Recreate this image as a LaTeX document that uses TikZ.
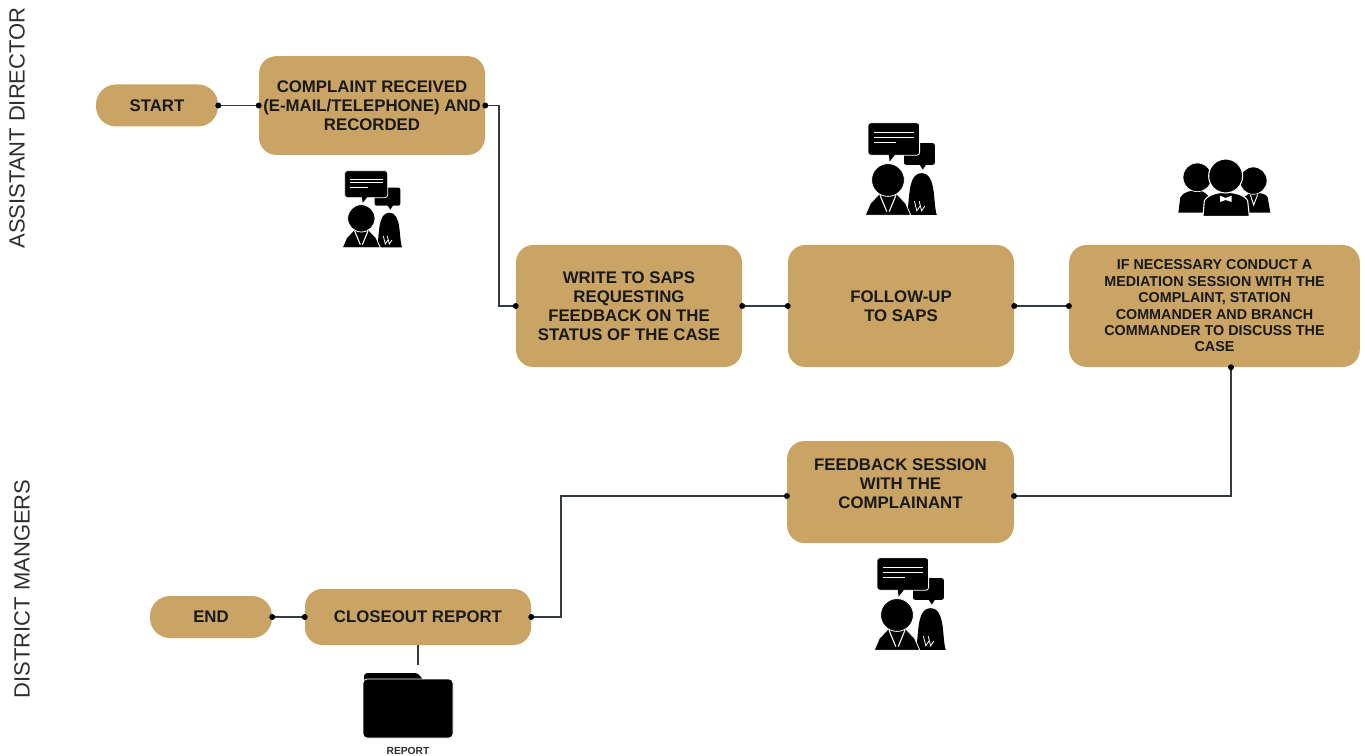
\documentclass[tikz,border=0pt]{standalone}
\usepackage{fontspec}
\setmainfont{Liberation Sans}
\usetikzlibrary{arrows.meta}

\definecolor{boxtan}{HTML}{C9A465}
\definecolor{linkgray}{HTML}{333A40}
\definecolor{sidegray}{HTML}{2E2E2E}

\tikzset{
  stepbox/.style={fill=boxtan, rounded corners=13pt, align=center, text=black!90,
    font=\fontsize{12.6}{14.3}\selectfont\bfseries, inner sep=0pt},
  pill/.style={stepbox, rounded corners=15pt},
  link/.style={draw=linkgray, line width=1.1pt, {Circle[length=4.4pt,black]}-{Circle[length=4.4pt,black]},
    shorten <=-2.2pt, shorten >=-2.2pt},
  sidelabel/.style={rotate=90, text=sidegray, font=\fontsize{16.5}{18}\selectfont},
  talkers/.pic={
    \fill[rounded corners=1.5pt] (140,83) rectangle (217,137);
    \fill (178,135) -- (187,149) -- (196,135) -- cycle;
    \filldraw[draw=white, line width=.6pt, rounded corners=2pt] (50,32) rectangle (179,113);
    \fill (102,111) -- (104,129) -- (118,111) -- cycle;
    \foreach \y in {57,68} {
      \draw[white, line width=.7pt] (65,\y) -- (165,\y);
    }
    \draw[white, line width=.7pt] (65,82) -- (121,82);
    % Woman
    \fill (146,262) .. controls (156,235) and (146,158) .. (184,158)
      .. controls (222,158) and (212,235) .. (222,262) -- cycle;
    \foreach \x in {166,178} {
      \draw[white, line width=.6pt] (\x,228) -- (\x+6,252) -- (\x+14,240);
    }
    % Man
    \filldraw[draw=white, line width=.6pt] (43,263) -- (56,233) -- (80,208) -- (120,208)
      -- (144,233) -- (157,263) -- cycle;
    \draw[white, line width=.8pt] (80,213) -- (97,254);
    \draw[white, line width=.8pt] (120,213) -- (103,254);
    \filldraw[draw=white, line width=.6pt] (100,175) circle (41);
  },
  crowd/.pic={
    % Left and right
    \fill (40,188) -- (46,142) .. controls (56,124) and (80,122) .. (97,120)
      .. controls (125,125) and (140,140) .. (150,188) -- cycle;
    \filldraw[draw=white, line width=.5pt] (97,82) circle (43);
    \fill (220,188) -- (228,150) .. controls (240,136) and (255,130) .. (265,128)
      .. controls (287,128) and (304,132) .. (308,142) -- (316,188) -- cycle;
    \filldraw[draw=white, line width=.5pt] (265,92) circle (41);
    \draw[white, line width=.7pt] (256,134) -- (266,165) -- (278,134);
    % Centre
    \filldraw[draw=white, line width=.8pt] (114,199) -- (118,152) .. controls (130,132) and (160,128) .. (182,126)
      .. controls (205,128) and (236,132) .. (248,152) -- (253,199) -- cycle;
    \filldraw[draw=white, line width=.8pt] (182,78) circle (51);
    \fill[white] (165,137) -- (182,144) -- (200,137) -- (200,156) -- (182,150) -- (165,156) -- cycle;
  }
}

\begin{document}
\begin{tikzpicture}[x=0.75pt, y=-0.75pt]
\useasboundingbox (0,0) rectangle (1365,756);

% Side labels
\node[sidelabel] (assistant) at (17,128) {ASSISTANT DIRECTOR};
\node[sidelabel] (district) at (22,589) {DISTRICT MANGERS};

% Boxes
\node[pill, minimum width=91.5pt, minimum height=31.5pt] (start) at (157,105.5) {START};
\node[stepbox, minimum width=169.5pt, minimum height=74pt] (complaint) at (372,105.5)
  {COMPLAINT RECEIVED\\(E-MAIL/TELEPHONE) AND\\RECORDED};
\node[stepbox, minimum width=169.5pt, minimum height=91.5pt] (write) at (629,306)
  {WRITE TO SAPS\\REQUESTING\\FEEDBACK ON THE\\STATUS OF THE CASE};
\node[stepbox, minimum width=169.5pt, minimum height=91.5pt] (follow) at (901,306)
  {FOLLOW-UP\\TO SAPS};
\node[stepbox, minimum width=218pt, minimum height=91.5pt,
  font=\fontsize{10.75}{12.3}\selectfont\bfseries] (mediation) at (1214.5,306)
  {IF NECESSARY CONDUCT A\\MEDIATION SESSION WITH THE\\COMPLAINT, STATION\\COMMANDER AND BRANCH\\COMMANDER TO DISCUSS THE\\CASE};
\node[stepbox, minimum width=170pt, minimum height=76.5pt] (feedback) at (900.5,492)
  {FEEDBACK SESSION\\WITH THE\\COMPLAINANT\\[-2.2pt]\mbox{}};
\node[stepbox, minimum width=169.5pt, minimum height=42pt] (closeout) at (418,617) {CLOSEOUT REPORT};
\node[pill, minimum width=91.5pt, minimum height=31.5pt] (end) at (211,617) {END};

% Connectors
\coordinate (turnA) at (499,105.5);
\coordinate (turnB) at (1231,496);
\coordinate (turnC) at (561,496);
\coordinate (reportend) at (418,665);
\draw[link] (start.east) -- (complaint.west);
\draw[link] (complaint.east) -- (turnA) |- (write.west);
\draw[link] (write.east) -- (follow.west);
\draw[link] (follow.east) -- (mediation.west);
\draw[link] (turnB |- mediation.south) -- (turnB) -- (feedback.east |- turnB);
\draw[link] (closeout.east) -| (turnC) -- (feedback.west |- turnC);
\draw[link] (end.east) -- (closeout.west);
\draw[draw=linkgray, line width=1.1pt] (closeout.south) -- (reportend);

% Icons
\pic[scale=.3333] at (328,160) {talkers};
\pic[scale=.4] at (848,110) {talkers};
\pic[scale=.4] at (857,545) {talkers};
\pic[scale=.3333] at (1165,150) {crowd};

% Folder
\fill (364,680) [rounded corners=2.5pt] -- (364,673) -- (418,673) [sharp corners] -- (423,680) -- cycle;
\filldraw[draw=white, line width=.6pt, rounded corners=3pt] (363,679) rectangle (453,738);
\node[text=sidegray, font=\fontsize{7.7}{9}\selectfont\bfseries] (report) at (408,751) {REPORT};
\end{tikzpicture}
\end{document}
